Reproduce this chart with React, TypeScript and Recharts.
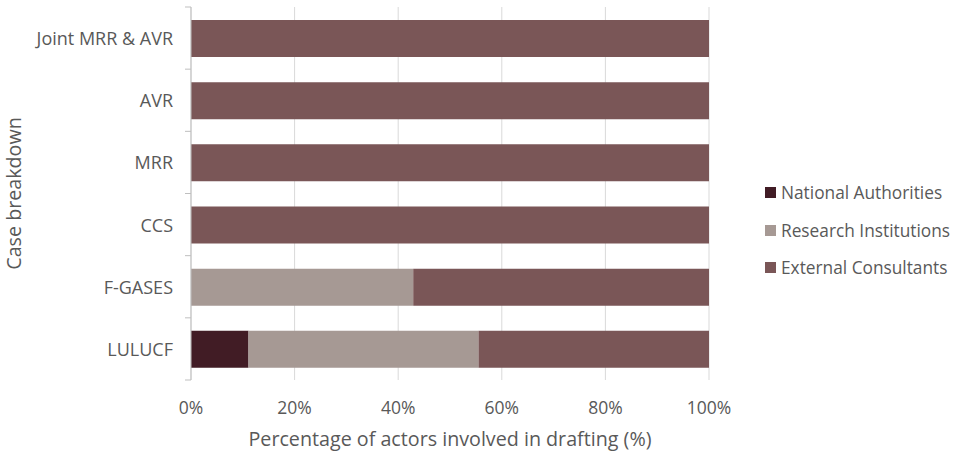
import { Bar, BarChart, CartesianGrid, Legend, XAxis, YAxis } from 'recharts'

const cases = ['Joint MRR & AVR', 'AVR', 'MRR', 'CCS', 'F-GASES', 'LULUCF']
const nationalAuthorities = [0, 0, 0, 0, 0, 11.1]
const researchInstitutions = [0, 0, 0, 0, 42.9, 44.4]
const externalConsultants = [100, 100, 100, 100, 57.1, 44.5]
const xTicks = [0, 20, 40, 60, 80, 100]

const series = [
  { key: 'national', name: 'National Authorities', color: '#411c25' },
  { key: 'research', name: 'Research Institutions', color: '#a69994' },
  { key: 'external', name: 'External Consultants', color: '#7a5657' },
]

const data = cases.map((name, i) => ({
  name,
  national: nationalAuthorities[i],
  research: researchInstitutions[i],
  external: externalConsultants[i],
}))

const FONT = '"Open Sans", sans-serif'
const TEXT = '#595959'
const PLOT_TOP = 7
const PLOT_BOTTOM = 380
const BAND = (PLOT_BOTTOM - PLOT_TOP) / cases.length

function CaseTick(props: any) {
  const { x, y, payload, index } = props
  const axisX = 191
  return (
    <g>
      <text x={x} y={y} textAnchor="end" dominantBaseline="central" fill={TEXT} fontSize={18} fontFamily={FONT}>
        {payload.value}
      </text>
      {index === 0 && <line x1={axisX - 6} x2={axisX} y1={y - BAND / 2} y2={y - BAND / 2} stroke="#bfbfbf" />}
      <line x1={axisX - 6} x2={axisX} y1={y + BAND / 2} y2={y + BAND / 2} stroke="#bfbfbf" />
    </g>
  )
}

function LegendBox() {
  return (
    <div style={{ fontFamily: FONT, fontSize: 17.3, color: TEXT }}>
      {series.map((s) => (
        <div key={s.key} style={{ display: 'flex', alignItems: 'center', height: 37.5 }}>
          <span style={{ width: 11, height: 11, background: s.color, marginRight: 5, display: 'inline-block' }} />
          {s.name}
        </div>
      ))}
    </div>
  )
}

export default function App() {
  return (
    <div style={{ position: 'absolute', left: 0, top: 0, background: '#fff' }}>
      <BarChart
        width={954}
        height={453}
        data={data}
        layout="vertical"
        margin={{ top: PLOT_TOP, right: 51, bottom: 0, left: 0 }}
        barSize={37}
      >
        <CartesianGrid horizontal={false} stroke="#d9d9d9" />
        <XAxis
          type="number"
          domain={[0, 100]}
          ticks={xTicks}
          tickFormatter={(v) => `${v}%`}
          axisLine={false}
          tickLine={false}
          tickMargin={16}
          height={73}
          tick={{ fill: TEXT, fontSize: 17.5, fontFamily: FONT }}
          label={{ value: 'Percentage of actors involved in drafting (%)', position: 'insideBottom', offset: 7, fill: TEXT, fontSize: 19.7, fontFamily: FONT }}
        />
        <YAxis
          type="category"
          dataKey="name"
          width={191}
          axisLine={{ stroke: '#bfbfbf' }}
          tickLine={false}
          tick={<CaseTick />}
          tickMargin={12}
          label={{ value: 'Case breakdown', angle: -90, position: 'insideLeft', offset: 14, fill: TEXT, fontSize: 19.7, fontFamily: FONT, style: { textAnchor: 'middle' } }}
        />
        <Legend
          layout="vertical"
          verticalAlign="top"
          align="right"
          content={<LegendBox />}
          wrapperStyle={{ left: 765, top: 174, width: 194 }}
        />
        {series.map((s) => (
          <Bar key={s.key} dataKey={s.key} name={s.name} stackId="a" fill={s.color} isAnimationActive={false} />
        ))}
      </BarChart>
    </div>
  )
}
